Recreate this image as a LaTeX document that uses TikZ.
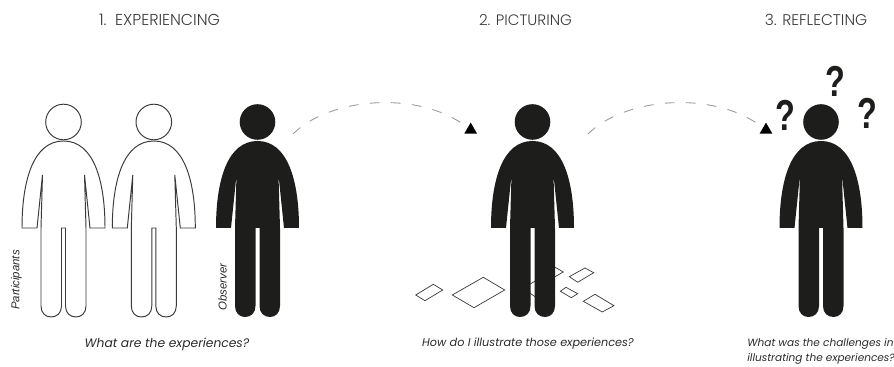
\documentclass[tikz,border=0pt]{standalone}
\usepackage{fontspec}
\setmainfont{Poppins}
\newfontfamily\headfont{Poppins Light}
\newfontfamily\labelfont{Liberation Sans}
\usetikzlibrary{shapes.geometric}
\definecolor{figblack}{HTML}{1D1D1B}
\definecolor{outline}{HTML}{3A3A3A}
\definecolor{headtext}{HTML}{3A3A3A}
\definecolor{captext}{HTML}{2A2A2A}
\definecolor{dashgrey}{HTML}{9A9A9A}
\newcommand{\askmark}{\scalebox{0.84}[1.12]{?}}

\tikzset{
  pics/person/.style={code={
    \path[pic actions] (0,122) circle[radius=17.8];
    \path[pic actions] (0,141)
      .. controls (30,141) and (41.5,180) .. (41.5,228) -- (26.5,228) -- (21,175) -- (22.5,228)
      -- (22.5,306) .. controls (22.5,313) and (18,317) .. (12.5,317)
      .. controls (6.5,317) and (2,313) .. (2,306) -- (2,228) -- (-2,228) -- (-2,306)
      .. controls (-2,313) and (-6.5,317) .. (-12.5,317)
      .. controls (-18,317) and (-22.5,313) .. (-22.5,306) -- (-22.5,228) -- (-21,175)
      -- (-26.5,228) -- (-41.5,228) .. controls (-41.5,180) and (-30,141) .. (0,141) -- cycle;
  }},
  participant/.style={draw=outline, fill=white, line width=0.55pt},
  observer/.style={fill=figblack},
  sheet/.style={draw=outline, fill=white, line width=0.4pt},
  flow/.style={dashgrey, line width=0.5pt, dash pattern=on 5.5pt off 6.5pt},
  tipmark/.style={regular polygon, regular polygon sides=3, fill=black, inner sep=0pt, minimum size=8.4pt},
  stepname/.style={text=headtext, font=\headfont},
  question/.style={text=captext, align=left},
  sidelabel/.style={text=captext, rotate=90, font=\labelfont\fontsize{6.5}{7}\itshape\selectfont},
  puzzled/.style={text=figblack, font=\labelfont\fontsize{22}{24}\bfseries\selectfont}
}

\begin{document}
\begin{tikzpicture}[x=0.02cm, y=-0.02cm]
\useasboundingbox (0,0) rectangle (894,367);

% Headings
\node[stepname] (head1) at (159.5,20) {\fontsize{9}{10}\selectfont 1.\ \ EXPERIENCING};
\node[stepname] (head2) at (525.5,20) {\fontsize{8.6}{10}\selectfont 2. PICTURING};
\node[stepname] (head3) at (816,20) {\fontsize{8.8}{10}\selectfont 3. REFLECTING};

% Sheets on the floor, behind the observer
\draw[sheet] (415.7,295) -- (433.3,284.3) -- (442.7,290) -- (425,300.7) -- cycle;
\draw[sheet] (452.3,295) -- (483.3,277.3) -- (504.7,290) -- (474,307.7) -- cycle;
\draw[sheet] (563.3,272) -- (550,264.3) -- (540,270) -- (553.3,277.7) -- cycle;
\draw[sheet] (523.3,288) -- (540,278.3) -- (550,285) -- (535,296.7) -- cycle;
\draw[sheet] (569.3,276.7) -- (585,268) -- (593.7,272.7) -- (577.7,282.3) -- cycle;
\draw[sheet] (560.3,291.3) -- (566,287.3) -- (577.7,293.7) -- (571.3,297.7) -- cycle;
\draw[sheet] (583.3,301.3) -- (595,294.3) -- (614,305.7) -- (602.3,312) -- cycle;

% Figures
\pic[participant] (part1) at (63.5,0) {person};
\pic[participant] (part2) at (153.8,0) {person};
\pic[observer] (obs1) at (257.5,0) {person};
\pic[observer] (obs2) at (532.5,0) {person};
\pic[observer] (obs3) at (821,0) {person};

% Side labels
\node[sidelabel] (partlabel) at (16.5,280) {Participants};
\node[sidelabel] (obslabel) at (222.5,287) {Observer};

% Question marks
\node[puzzled] (ask1) at (785,115) {\askmark};
\node[puzzled] (ask2) at (835,81) {\askmark};
\node[puzzled] (ask3) at (867,113) {\askmark};

% Connectors
\coordinate (from1) at (293,134);
\coordinate (from2) at (588,134);
\node[tipmark] (tip1) at (470.7,130) {};
\node[tipmark] (tip2) at (766,130) {};
\draw[flow] (from1) .. controls (330,97) and (420,90) .. (tip1);
\draw[flow] (from2) .. controls (625,97) and (715,90) .. (tip2);

% Captions
\node[question, font=\fontsize{7}{9.2}\itshape\selectfont] (ask1text) at (167,344) {What are the experiences?};
\node[question, font=\fontsize{6.4}{9.2}\itshape\selectfont] (ask2text) at (528,344) {How do I illustrate those experiences?};
\node[question, font=\fontsize{6}{8.5}\itshape\selectfont, anchor=west, inner sep=0pt] (ask3text) at (747,351.5) {What was the challenges in\\illustrating the experiences?};

\end{tikzpicture}
\end{document}
